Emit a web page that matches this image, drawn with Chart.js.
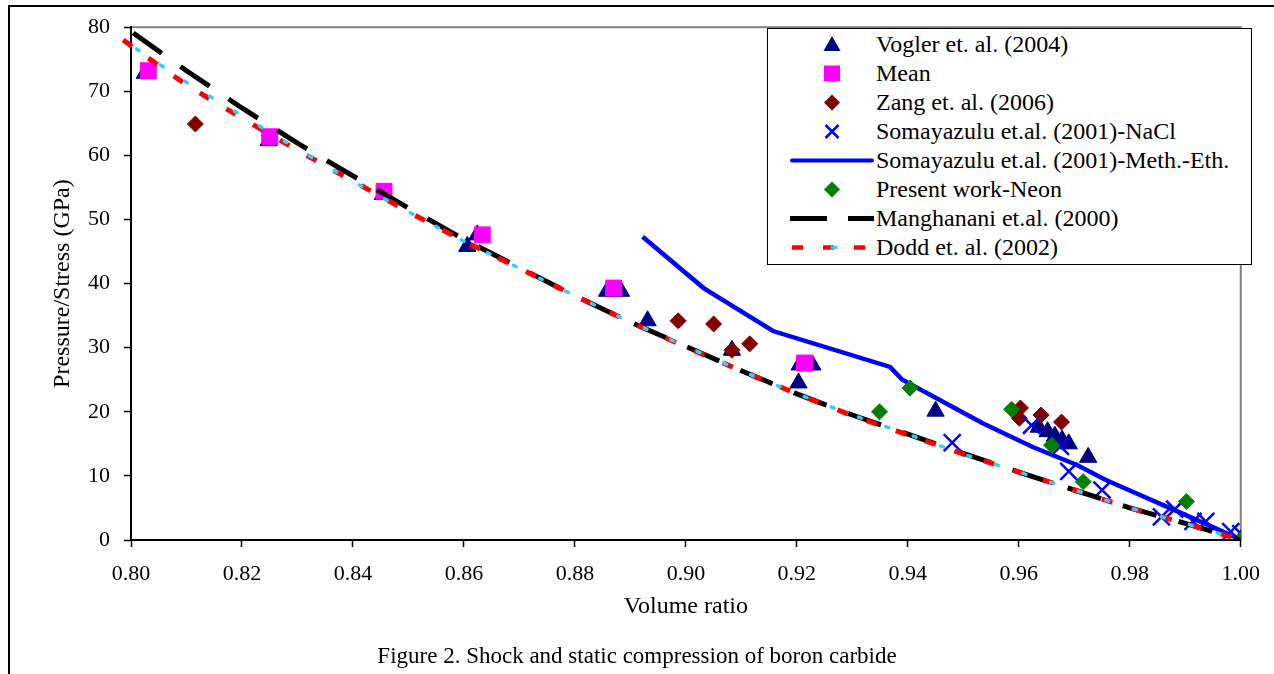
<!DOCTYPE html>
<html>
<head>
<meta charset="utf-8">
<script src="https://cdn.jsdelivr.net/npm/chart.js@4.4.0/dist/chart.umd.min.js"></script>
<style>
  body { margin: 0; background: #fff; font-family: 'Liberation Serif', 'Times New Roman', serif; }
  #wrap { position: relative; width: 1274px; height: 674px; overflow: hidden; }
  #frame { position: absolute; left: 8px; top: 5px; width: 1400px; height: 800px; border-left: 2px solid #000; border-top: 2px solid #000; }
  #chart { position: absolute; left: 0; top: 0; }
  #legend { position: absolute; left: 767px; top: 28px; width: 485px; height: 237px; box-sizing: border-box;
            border: 1.5px solid #000; background: #fff; padding-top: 1px; }
  .row { position: relative; height: 29px; line-height: 29px; font-size: 24px; color: #000; }
  .row svg { position: absolute; left: 22px; top: 0; }
  .row span { position: absolute; left: 108px; top: 0; white-space: nowrap; }
  #caption { position: absolute; left: 0; width: 1274px; top: 641px; text-align: center; font-size: 23px; line-height: 30px; color: #000; }
</style>
</head>
<body>
<div id="wrap">
  <div id="frame"></div>
  <canvas id="chart" width="1274" height="674"></canvas>
  <div id="legend">
    <div class="row"><svg width="84" height="29"><polygon points="42,6 50.5,21 33.5,21" fill="#000080"/></svg><span>Vogler et. al. (2004)</span></div>
    <div class="row"><svg width="84" height="29"><rect x="34" y="6.5" width="16" height="16" fill="#FF00FF"/></svg><span>Mean</span></div>
    <div class="row"><svg width="84" height="29"><polygon points="42,6.5 50,14.5 42,22.5 34,14.5" fill="#800000"/></svg><span>Zang et. al. (2006)</span></div>
    <div class="row"><svg width="84" height="29"><path d="M35.5,8 L48.5,21 M48.5,8 L35.5,21" stroke="#0000FF" stroke-width="2.5"/></svg><span>Somayazulu et.al. (2001)-NaCl</span></div>
    <div class="row"><svg width="84" height="29"><line x1="2" y1="14.5" x2="82" y2="14.5" stroke="#0000FF" stroke-width="4" stroke-linecap="round"/></svg><span>Somayazulu et.al. (2001)-Meth.-Eth.</span></div>
    <div class="row"><svg width="84" height="29"><polygon points="42,6.5 50,14.5 42,22.5 34,14.5" fill="#008000"/></svg><span>Present work-Neon</span></div>
    <div class="row"><svg width="84" height="29"><line x1="0" y1="14.5" x2="84" y2="14.5" stroke="#000" stroke-width="5" stroke-dasharray="37 21"/></svg><span>Manghanani et.al. (2000)</span></div>
    <div class="row"><svg width="84" height="29"><line x1="2" y1="14.5" x2="84" y2="14.5" stroke="#FF0000" stroke-width="4.5" stroke-dasharray="11 20"/><line x1="42" y1="14.5" x2="46" y2="14.5" stroke="#33CCFF" stroke-width="3" stroke-linecap="round"/></svg><span>Dodd et. al. (2002)</span></div>
  </div>
  <div id="caption">Figure 2. Shock and static compression of boron carbide</div>
</div>
<script>
// Vogler et. al. (2004) - triangulos
const voglerV = [0.8025, 0.8248, 0.8454, 0.8624, 0.8606, 0.8858, 0.8883, 0.8931, 0.9083, 0.9205, 0.9228, 0.9203, 0.9450, 0.9636, 0.9652, 0.9665, 0.9678, 0.9690, 0.9725, 1.0];
const voglerP = [72.8, 62.3, 53.9, 47.6, 45.8, 38.8, 38.8, 34.2, 29.6, 27.3, 27.3, 24.5, 20.1, 17.6, 16.9, 16.2, 15.6, 15.0, 12.9, 0];

// Mean
const meanV = [0.8031, 0.8250, 0.8456, 0.8633, 0.8870, 0.9214];
const meanP = [73.2, 62.9, 54.4, 47.6, 39.3, 27.6];

// Zang et. al. (2006)
const zangV = [0.8116, 0.8986, 0.9050, 0.9083, 0.9115, 0.9603, 0.9601, 0.9640, 0.9677];
const zangP = [64.9, 34.2, 33.7, 29.6, 30.6, 20.6, 19.0, 19.5, 18.4];

// Somayazulu (2001) NaCl
const naclV = [0.9480, 0.9623, 0.9675, 0.9690, 0.9750, 0.9857, 0.9881, 0.9914, 0.9937, 0.9982, 1.0];
const naclP = [15.2, 17.9, 14.6, 10.7, 7.8, 3.6, 4.8, 2.9, 2.9, 1.3, 1.0];

// Somayazulu (2001) Meth.-Eth.
const methV = [0.8922, 0.9032, 0.9157, 0.9368, 0.9390, 0.9535, 0.9625, 0.9705, 0.9756, 0.9893, 0.9994];
const methP = [47.3, 39.3, 32.6, 27.0, 25.0, 18.2, 14.5, 11.7, 9.4, 4.2, 0.3];

// Present work - Neon
const neonV = [0.9349, 0.9404, 0.9587, 0.9659, 0.9716, 0.9902, 1.0];
const neonP = [20.0, 23.7, 20.4, 14.8, 9.1, 6.0, 0];

// Manghanani et.al. (2000)
const mangV = [0.8004, 0.81, 0.82, 0.83, 0.84, 0.85, 0.86, 0.87, 0.88, 0.89, 0.90, 0.91, 0.92, 0.93, 0.94, 0.95, 0.96, 0.97, 0.98, 0.99, 1.0];
const mangP = [79.1, 73.2, 67.4, 61.9, 56.8, 51.8, 46.9, 42.5, 38.1, 34.0, 30.2, 26.4, 22.8, 19.5, 16.5, 13.5, 10.6, 7.8, 5.0, 2.6, 0];

// Dodd et. al. (2002)
const doddV = [0.7986, 0.8016, 0.81, 0.82, 0.83, 0.84, 0.85, 0.86, 0.87, 0.88, 0.89, 0.90, 0.91, 0.92, 0.93, 0.94, 0.95, 0.96, 0.97, 0.98, 0.99, 1.0];
const doddP = [78.0, 76.1, 71.0, 65.8, 60.8, 56.0, 51.2, 46.6, 42.4, 38.1, 34.0, 30.1, 26.4, 22.8, 19.4, 16.4, 13.4, 10.6, 7.8, 5.0, 2.6, 0];

// curva pontilhada azul clara (sem legenda)
const cyanV = [0.801, 0.81, 0.82, 0.83, 0.84, 0.85, 0.86, 0.87, 0.88, 0.89, 0.90, 0.91, 0.92, 0.93, 0.94, 0.95, 0.96, 0.97, 0.98, 0.99, 1.0];
const cyanP = [76.6, 71.4, 66.2, 61.0, 55.9, 51.2, 46.6, 42.4, 38.1, 34.0, 30.2, 26.4, 22.8, 19.5, 16.5, 13.4, 10.6, 7.8, 5.0, 2.6, 0];

const pts = (xs, ys) => xs.map((x, i) => ({ x: x, y: ys[i] }));

Chart.defaults.font.family = "'Liberation Serif', 'Times New Roman', serif";
Chart.defaults.color = '#000';

// moldura cinza da area do grafico
const plotFrame = {
  id: 'plotFrame',
  beforeDraw(chart) {
    const a = chart.chartArea;
    const ctx = chart.ctx;
    ctx.save();
    ctx.strokeStyle = '#808080';
    ctx.lineWidth = 2;
    ctx.strokeRect(a.left, a.top, a.right - a.left, a.bottom - a.top);
    ctx.restore();
  }
};

const marker = (label, data, style, radius, color, order) => ({
  label: label, data: data, showLine: false,
  pointStyle: style, pointRadius: radius, pointHoverRadius: radius,
  backgroundColor: color, borderColor: color, borderWidth: 1, order: order
});

const line = (label, data, color, width, dash, order) => ({
  label: label, data: data, showLine: true, pointRadius: 0, pointHoverRadius: 0,
  borderColor: color, backgroundColor: color, borderWidth: width, borderDash: dash,
  tension: 0, fill: false, order: order
});

const naclSet = marker('Somayazulu et.al. (2001)-NaCl', pts(naclV, naclP), 'crossRot', 12, '#0000FF', 6);
naclSet.borderWidth = 2.5;

const doddSet = line('Dodd et. al. (2002)', pts(doddV, doddP), '#FF0000', 5, [11, 20], 2);
doddSet.clip = { left: 12, top: 2, right: 2, bottom: 2 };

const cyanSet = line('', pts(cyanV, cyanP), '#33CCFF', 3.5, [3, 26], 1);
cyanSet.borderCapStyle = 'round';

new Chart(document.getElementById('chart').getContext('2d'), {
  type: 'scatter',
  data: {
    datasets: [
      cyanSet,
      doddSet,
      line('Manghanani et.al. (2000)', pts(mangV, mangP), '#000000', 5, [35, 23], 3),
      marker('Present work-Neon', pts(neonV, neonP), 'rectRot', 8, '#008000', 4),
      line('Somayazulu et.al. (2001)-Meth.-Eth.', pts(methV, methP), '#0000FF', 4.5, [], 5),
      naclSet,
      marker('Zang et. al. (2006)', pts(zangV, zangP), 'rectRot', 8, '#800000', 7),
      marker('Mean', pts(meanV, meanP), 'rect', 11.3, '#FF00FF', 8),
      marker('Vogler et. al. (2004)', pts(voglerV, voglerP), 'triangle', 10, '#000080', 9)
    ]
  },
  options: {
    responsive: false,
    devicePixelRatio: 1,
    animation: false,
    events: [],
    layout: { padding: { top: 27, right: 24, left: 0, bottom: 0 } },
    plugins: {
      legend: { display: false },
      tooltip: { enabled: false }
    },
    scales: {
      x: {
        type: 'linear',
        position: 'bottom',
        min: 0.8,
        max: 1.0,
        ticks: {
          stepSize: 0.02,
          autoSkip: false,
          maxRotation: 0,
          padding: 14,
          color: '#000',
          font: { size: 22 },
          callback: v => Number(v).toFixed(2)
        },
        grid: { drawOnChartArea: false, tickLength: 7, tickColor: '#000', tickWidth: 1.5 },
        border: { color: '#000', width: 2 },
        title: { display: true, text: 'Volume ratio', color: '#000', font: { size: 24 }, padding: { top: 0, bottom: 52.6 } },
        afterFit: s => { s.height = 134; }
      },
      y: {
        min: 0,
        max: 80,
        ticks: {
          stepSize: 10,
          padding: 14,
          color: '#000',
          font: { size: 22 }
        },
        grid: { drawOnChartArea: false, tickLength: 7, tickColor: '#000', tickWidth: 1.5 },
        border: { color: '#000', width: 2 },
        title: { display: true, text: 'Pressure/Stress (GPa)', color: '#000', font: { size: 24 }, padding: { top: 48.6, bottom: 0 } },
        afterFit: s => { s.width = 131; }
      }
    }
  },
  plugins: [plotFrame]
});
</script>
</body>
</html>
